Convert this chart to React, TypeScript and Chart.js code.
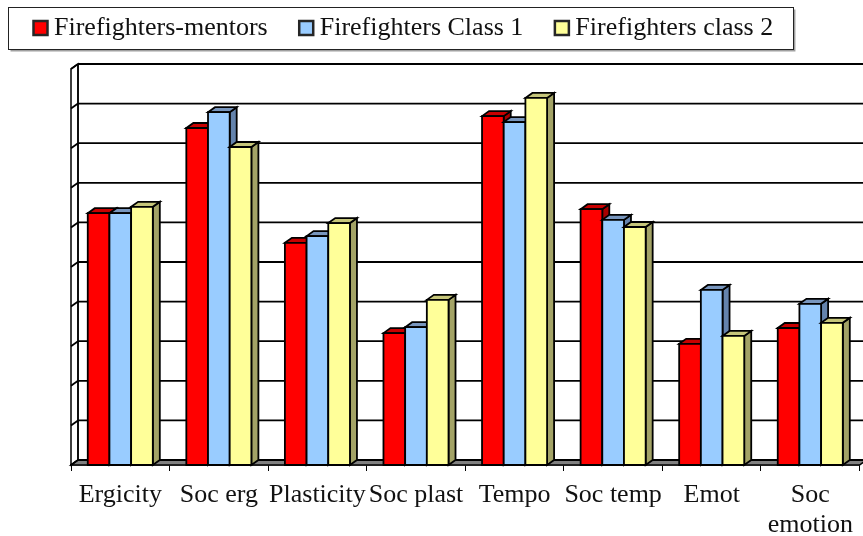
import React, { useEffect, useRef } from 'react';
import { Chart, registerables } from 'chart.js';

Chart.register(...registerables);

const categories: (string | string[])[] = [
  'Ergicity',
  'Soc erg',
  'Plasticity',
  'Soc plast',
  'Tempo',
  'Soc temp',
  'Emot',
  ['Soc', 'emotion'],
];
const seriesNames = ['Firefighters-mentors', 'Firefighters Class 1', 'Firefighters class 2'];
const mentors = [6.36, 8.51, 5.61, 3.33, 8.81, 6.46, 3.06, 3.46];
const class1 = [6.36, 8.91, 5.78, 3.48, 8.66, 6.19, 4.42, 4.07];
const class2 = [6.52, 8.03, 6.11, 4.17, 9.27, 6.01, 3.26, 3.59];
const gridValues = [0, 1, 2, 3, 4, 5, 6, 7, 8, 9, 10];

const frontColors = ['#FF0000', '#99CCFF', '#FFFF99'];
const topColors = ['#C80000', '#7896BE', '#C6C67A'];
const sideColors = ['#A80000', '#6483AC', '#A3A366'];

const FONT = "'Liberation Serif', 'Times New Roman', serif";
const DX = 7;
const DY = 5;
const EDGE = 1.8;

const threeD = {
  id: 'threeD',
  beforeDatasetsDraw(chart: any) {
    const { ctx, chartArea: ca, scales } = chart;
    const y = scales.y;
    const W = chart.width;
    const yTop = y.getPixelForValue(10);
    const yBot = y.getPixelForValue(0);
    ctx.save();
    ctx.lineWidth = 1.5;
    ctx.strokeStyle = '#000';
    ctx.lineJoin = 'miter';
    // left wall
    ctx.fillStyle = '#fff';
    ctx.beginPath();
    ctx.moveTo(ca.left, yBot);
    ctx.lineTo(ca.left, yTop);
    ctx.lineTo(ca.left + DX, yTop - DY);
    ctx.lineTo(ca.left + DX, yBot - DY);
    ctx.closePath();
    ctx.fill();
    ctx.stroke();
    // floor
    ctx.fillStyle = '#808080';
    ctx.beginPath();
    ctx.moveTo(ca.left, yBot);
    ctx.lineTo(ca.right, yBot);
    ctx.lineTo(ca.right + DX, yBot - DY);
    ctx.lineTo(ca.left + DX, yBot - DY);
    ctx.closePath();
    ctx.fill();
    ctx.stroke();
    // gridlines on back wall and side wall
    ctx.lineWidth = 1.8;
    for (const v of gridValues) {
      const yf = y.getPixelForValue(v);
      const yb = yf - DY;
      ctx.beginPath();
      ctx.moveTo(ca.left + DX, yb);
      ctx.lineTo(W, yb);
      ctx.stroke();
      ctx.beginPath();
      ctx.moveTo(ca.left, yf);
      ctx.lineTo(ca.left + DX, yb);
      ctx.stroke();
    }
    ctx.lineWidth = 1.5;
    ctx.beginPath();
    ctx.moveTo(ca.left + DX, yTop - DY);
    ctx.lineTo(ca.left + DX, yBot - DY);
    ctx.stroke();
    ctx.restore();
  },
  beforeDatasetDraw() {
    return false;
  },
  afterDatasetsDraw(chart: any) {
    const { ctx } = chart;
    ctx.save();
    ctx.lineWidth = EDGE;
    ctx.strokeStyle = '#000';
    ctx.lineJoin = 'miter';
    chart.data.datasets.forEach((_ds: any, i: number) => {
      const meta = chart.getDatasetMeta(i);
      meta.data.forEach((bar: any) => {
        const p = bar.getProps(['x', 'y', 'base', 'width'], true);
        const l = p.x - p.width / 2;
        const r = p.x + p.width / 2;
        const t = Math.min(p.y, p.base);
        const b = Math.max(p.y, p.base);
        // side
        ctx.fillStyle = sideColors[i];
        ctx.beginPath();
        ctx.moveTo(r, t);
        ctx.lineTo(r + DX, t - DY);
        ctx.lineTo(r + DX, b - DY);
        ctx.lineTo(r, b);
        ctx.closePath();
        ctx.fill();
        ctx.stroke();
        // top
        ctx.fillStyle = topColors[i];
        ctx.beginPath();
        ctx.moveTo(l, t);
        ctx.lineTo(l + DX, t - DY);
        ctx.lineTo(r + DX, t - DY);
        ctx.lineTo(r, t);
        ctx.closePath();
        ctx.fill();
        ctx.stroke();
        // front
        ctx.fillStyle = frontColors[i];
        ctx.beginPath();
        ctx.rect(l, t, r - l, b - t);
        ctx.fill();
        ctx.stroke();
      });
    });
    ctx.restore();
  },
  afterDraw(chart: any) {
    const lg = chart.legend;
    if (!lg || !lg.legendHitBoxes || !lg.legendHitBoxes.length) return;
    const hb = lg.legendHitBoxes;
    const last = hb[hb.length - 1];
    const left = Math.round(hb[0].left - 32) + 0.5;
    const right = Math.round(last.left + last.width + 20) + 0.5;
    const top = Math.round(hb[0].top - 8) + 0.5;
    const bottom = Math.round(hb[0].top + hb[0].height + 8) + 0.5;
    const { ctx } = chart;
    ctx.save();
    ctx.strokeStyle = '#a0a0a0';
    ctx.lineWidth = 1.5;
    ctx.beginPath();
    ctx.moveTo(left + 2, bottom + 1.2);
    ctx.lineTo(right + 1.2, bottom + 1.2);
    ctx.lineTo(right + 1.2, top + 2);
    ctx.stroke();
    ctx.strokeStyle = '#222';
    ctx.lineWidth = 1;
    ctx.strokeRect(left, top, right - left, bottom - top);
    ctx.restore();
  },
};

export default function App() {
  const ref = useRef<HTMLCanvasElement>(null);
  useEffect(() => {
    if (!ref.current) return;
    const chart = new Chart(ref.current, {
      type: 'bar',
      data: {
        labels: categories as any,
        datasets: [
          { label: seriesNames[0], data: mentors, backgroundColor: frontColors[0], borderColor: '#000', borderWidth: 1.5 },
          { label: seriesNames[1], data: class1, backgroundColor: frontColors[1], borderColor: '#000', borderWidth: 1.5 },
          { label: seriesNames[2], data: class2, backgroundColor: frontColors[2], borderColor: '#000', borderWidth: 1.5 },
        ],
      },
      options: {
        animation: false,
        responsive: true,
        maintainAspectRatio: false,
        layout: { padding: { top: -23, left: 2, right: 2, bottom: 0 } },
        datasets: { bar: { categoryPercentage: 0.66, barPercentage: 1.0 } },
        plugins: {
          tooltip: { enabled: false },
          legend: {
            position: 'top',
            align: 'start',
            labels: {
              font: { family: FONT, size: 26 },
              color: '#111',
              padding: 38,
              boxWidth: 1,
              boxHeight: 14,
              usePointStyle: true,
              pointStyle: 'rect',
              generateLabels: (c: any) =>
                (Chart.defaults.plugins.legend.labels.generateLabels as any)(c).map((l: any) => ({
                  ...l,
                  lineWidth: 2.5,
                  strokeStyle: '#262626',
                  pointStyle: 'rect',
                })),
            },
          },
        },
        scales: {
          x: {
            grid: {
              display: true,
              drawOnChartArea: false,
              drawTicks: true,
              tickLength: 6,
              color: '#000',
              lineWidth: 1,
              offset: true,
            },
            border: { display: true, color: '#000', width: 1.5 },
            ticks: {
              font: { family: FONT, size: 26, lineHeight: 1.12 },
              color: '#111',
              padding: 10,
              autoSkip: false,
              maxRotation: 0,
              minRotation: 0,
            },
            afterFit: (s: any) => {
              s.height = 71;
            },
          },
          y: {
            min: 0,
            max: 10.4545,
            display: true,
            grid: { display: false },
            border: { display: false },
            ticks: { display: false },
            afterFit: (s: any) => {
              s.width = 69;
            },
          },
        },
      },
      plugins: [threeD],
    } as any);
    return () => chart.destroy();
  }, []);
  return (
    <div style={{ position: 'fixed', left: 0, top: 0, width: 863, height: 536, background: '#fff' }}>
      <canvas ref={ref} />
    </div>
  );
}
